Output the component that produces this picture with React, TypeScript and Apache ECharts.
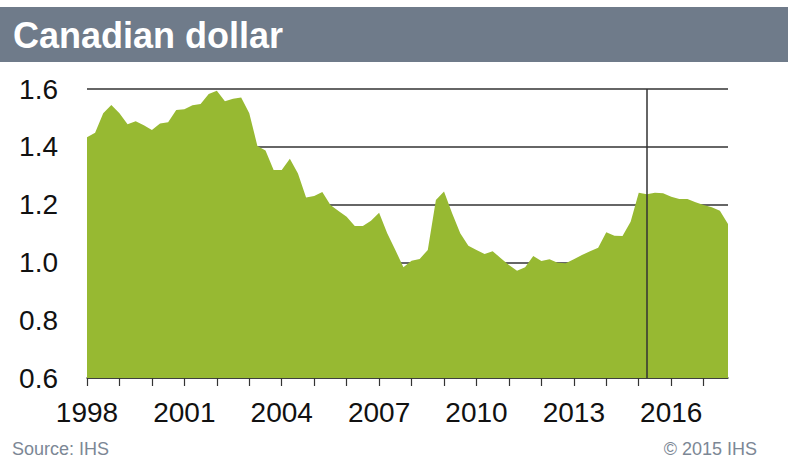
import React, { useEffect, useRef } from "react";
import * as echarts from "echarts";

const years = [1998, 1999, 2000, 2001, 2002, 2003, 2004, 2005, 2006, 2007, 2008, 2009, 2010, 2011, 2012, 2013, 2014, 2015, 2016, 2017];
const quarterNames = ["Q1", "Q2", "Q3", "Q4"];
const categories = years.flatMap((y) => quarterNames.map((q) => `${y}${q}`));

// C$ per US$, quarterly values
const cadValues = [
  1.433, 1.449, 1.516, 1.545,
  1.516, 1.478, 1.488, 1.475,
  1.458, 1.481, 1.485, 1.527,
  1.530, 1.544, 1.548, 1.583,
  1.594, 1.558, 1.566, 1.571,
  1.516, 1.403, 1.387, 1.320,
  1.320, 1.359, 1.308, 1.225,
  1.230, 1.244, 1.199, 1.178,
  1.158, 1.126, 1.126, 1.144,
  1.172, 1.101, 1.043, 0.983,
  1.006, 1.012, 1.043, 1.216,
  1.245, 1.170, 1.101, 1.058,
  1.043, 1.029, 1.039, 1.014,
  0.991, 0.971, 0.983, 1.022,
  1.005, 1.011, 0.999, 0.997,
  1.011, 1.026, 1.039, 1.051,
  1.104, 1.092, 1.091, 1.141,
  1.241, 1.236, 1.241, 1.239,
  1.227, 1.219, 1.219, 1.208,
  1.199, 1.191, 1.179, 1.133,
];

const forecastStart = "2015Q2";
const yTicks = [0.6, 0.8, 1.0, 1.2, 1.4, 1.6];

export default function App() {
  const ref = useRef<HTMLDivElement>(null);
  useEffect(() => {
    if (!ref.current) return;
    const chart = echarts.init(ref.current, null, { renderer: "svg" });
    const font = "'Liberation Sans', Arial, sans-serif";
    chart.setOption({
      animation: false,
      backgroundColor: "#ffffff",
      title: {
        text: "Canadian dollar",
        left: 13,
        top: 15,
        padding: 0,
        textStyle: { color: "#ffffff", fontSize: 36, fontWeight: "bold", fontFamily: font, lineHeight: 40 },
      },
      graphic: [
        {
          type: "rect",
          z: -1,
          shape: { x: 0, y: 7, width: 788, height: 55 },
          style: { fill: "#6f7b8a" },
          silent: true,
        },
        {
          type: "text",
          x: 12,
          y: 449,
          style: { text: "Source: IHS", fill: "#7c8795", fontSize: 18, fontFamily: font, textVerticalAlign: "middle" },
        },
        {
          type: "text",
          x: 757,
          y: 449,
          style: { text: "© 2015 IHS", fill: "#7c8795", fontSize: 18, fontFamily: font, textAlign: "right", textVerticalAlign: "middle" },
        },
      ],
      grid: { left: 87, right: 60, top: 89, bottom: 89, containLabel: false },
      xAxis: {
        type: "category",
        data: categories,
        boundaryGap: false,
        axisLine: { show: true, lineStyle: { color: "#333333", width: 1.5 } },
        axisTick: { show: true, interval: 3, length: 8, lineStyle: { color: "#333333", width: 1.2 } },
        axisLabel: {
          interval: 11,
          formatter: (v: string) => v.slice(0, 4),
          fontSize: 28,
          color: "#111111",
          fontFamily: font,
          margin: 20,
        },
        splitLine: { show: false },
      },
      yAxis: {
        type: "value",
        min: yTicks[0],
        max: yTicks[yTicks.length - 1],
        interval: 0.2,
        axisLine: { show: false },
        axisTick: { show: false },
        axisLabel: {
          formatter: (v: number) => v.toFixed(1),
          fontSize: 28,
          color: "#111111",
          fontFamily: font,
          margin: 29,
        },
        splitLine: { show: true, lineStyle: { color: "#333333", width: 1.5 } },
      },
      series: [
        {
          type: "line",
          data: cadValues,
          symbol: "none",
          lineStyle: { width: 0 },
          areaStyle: { color: "#97b932", opacity: 1 },
          markLine: {
            silent: true,
            symbol: "none",
            label: { show: false },
            lineStyle: { color: "#333333", width: 1.5, type: "solid" },
            data: [{ xAxis: forecastStart }],
          },
        },
      ],
    });
    return () => chart.dispose();
  }, []);
  return <div ref={ref} style={{ position: "fixed", left: 0, top: 0, width: 788, height: 467 }} />;
}
